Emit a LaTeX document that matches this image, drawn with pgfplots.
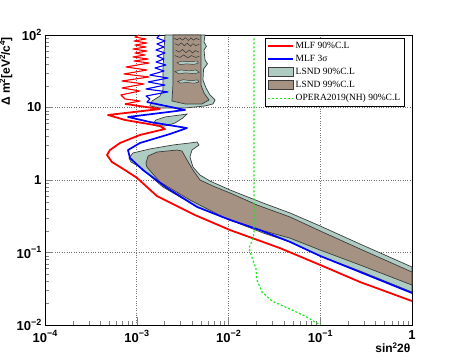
\documentclass[border=0pt]{standalone}
\usepackage{fontspec}
\setmainfont{Liberation Serif}
\setsansfont{Liberation Sans}
\usepackage{pgfplots}
\pgfplotsset{compat=1.18}
\definecolor{lsndA}{RGB}{174,204,194}
\definecolor{lsndB}{RGB}{166,146,131}
\definecolor{edge}{RGB}{60,60,60}
\definecolor{opera}{RGB}{20,235,20}
\newcommand{\tpow}[1]{10\raisebox{0.42em}{\fontsize{9}{9}\selectfont #1}}
\newcommand{\spx}[1]{\raisebox{0.4em}{\fontsize{8}{8}\selectfont #1}}
\pgfplotsset{
  linelegend/.style={legend image code/.code={\draw[##1] (0pt,0pt) -- (25pt,0pt);}},
  boxlegend/.style={legend image code/.code={\draw[##1] (0pt,-4.5pt) rectangle (25pt,4.5pt);}},
}
\begin{document}
\begin{tikzpicture}
\useasboundingbox (-45pt,-37pt) rectangle (412pt,325pt);
\begin{axis}[
  at={(0,0)}, anchor=south west,
  scale only axis, width=367pt, height=290pt,
  xmode=log, ymode=log,
  xmin=1e-4, xmax=1, ymin=1e-2, ymax=100,
  tick pos=left, tick align=inside,
  major tick length=8pt, minor tick length=4pt,
  xtick={1e-4,1e-3,1e-2,1e-1,1},
  xticklabels={\tpow{−4},\tpow{−3},\tpow{−2},\tpow{−1},1},
  minor xtick={2e-4,3e-4,4e-4,5e-4,6e-4,7e-4,8e-4,9e-4,
    2e-3,3e-3,4e-3,5e-3,6e-3,7e-3,8e-3,9e-3,
    2e-2,3e-2,4e-2,5e-2,6e-2,7e-2,8e-2,9e-2,
    0.2,0.3,0.4,0.5,0.6,0.7,0.8,0.9},
  ytick={1e-2,1e-1,1,10,100},
  yticklabels={\tpow{−2},\tpow{−1},1,10,\tpow{2}},
  minor ytick={0.02,0.03,0.04,0.05,0.06,0.07,0.08,0.09,
    0.2,0.3,0.4,0.5,0.6,0.7,0.8,0.9,
    2,3,4,5,6,7,8,9,20,30,40,50,60,70,80,90},
  tick label style={font=\sffamily\bfseries\fontsize{13}{13}\selectfont},
  xticklabel style={yshift=-2pt},
  grid=major, grid style={dotted, black!55, line width=0.5pt},
  axis line style={line width=0.8pt},
  xlabel={sin\spx{2}2θ},
  xlabel style={at={(axis description cs:1.005,-0.048)}, anchor=north east,
    font=\sffamily\bfseries\fontsize{12}{12}\selectfont},
  ylabel={Δ m\spx{2}[eV\spx{2}/c\spx{4}]},
  ylabel style={at={(axis description cs:-0.079,1.005)}, anchor=south east,
    font=\sffamily\bfseries\fontsize{12}{12}\selectfont},
  linelegend,
  legend cell align=left,
  legend style={at={(axis description cs:0.5995,0.990)}, anchor=north west,
    draw=black, fill=white, font=\rmfamily\fontsize{9.5}{9.5}\selectfont,
    row sep=1.2pt, inner sep=2pt},
]
\addlegendimage{red, line width=1.5pt}
\addlegendentry{MLF 90\%C.L}
\addlegendimage{blue, line width=1.5pt}
\addlegendentry{MLF 3σ}
\addlegendimage{boxlegend, fill=lsndA, draw=edge, line width=0.8pt}
\addlegendentry{LSND 90\%C.L}
\addlegendimage{boxlegend, fill=lsndB, draw=edge, line width=0.8pt}
\addlegendentry{LSND 99\%C.L}
\addlegendimage{opera, dash pattern=on 2pt off 2pt, line width=1.2pt}
\addlegendentry{OPERA2019(NH) 90\%C.L}

% LSND 90% regions
\addplot[fill=lsndA, draw=edge, line width=0.7pt, forget plot] coordinates {
  (8.23e-4,2.01)(9.10e-4,2.36)(1.39e-3,2.68)(2.48e-3,3.04)(3.80e-3,3.24)
  (4.54e-3,3.34)(4.77e-3,3.04)(4.00e-3,2.59)(3.80e-3,2.08)(4.10e-3,1.51)
  (4.89e-3,1.17)(6.28e-3,0.969)(1.04e-2,0.728)(2.38e-2,0.482)(4.68e-2,0.351)
  (0.1,0.232)(0.271,0.131)(1,0.0631)(1,0.0285)(0.271,0.0556)(0.1,0.0895)
  (4.68e-2,0.140)(2.38e-2,0.186)(1.04e-2,0.281)(4.54e-3,0.425)(1.93e-3,0.800)
  (1.084e-3,1.51)(8.65e-4,1.77)} -- cycle;
\addplot[fill=lsndA, draw=edge, line width=0.7pt, forget plot] coordinates {
  (1.50e-3,5.92)(1.62e-3,6.73)(2.03e-3,7.40)(2.96e-3,7.88)(3.53e-3,8.13)
  (3.19e-3,7.17)(2.61e-3,6.11)(2.03e-3,5.56)(1.66e-3,5.56)} -- cycle;
\addplot[fill=lsndA, draw=edge, line width=0.7pt, forget plot] coordinates {
  (2.03e-3,100)(5.55e-3,100)(5.41e-3,80)(5.75e-3,70)(5.41e-3,62)(5.55e-3,45.2)
  (5.90e-3,40)(5.35e-3,34)(5.27e-3,23.9)(5.69e-3,18.6)
  (6.28e-3,14.9)(7.13e-3,12.7)(6.78e-3,11.2)(5.55e-3,10.5)(3.36e-3,9.84)
  (1.79e-3,9.84)(1.39e-3,10.5)(1.47e-3,12.3)(1.79e-3,14.4)(1.93e-3,17.4)
  (1.93e-3,32.9)} -- cycle;

% LSND 99% regions
\addplot[fill=lsndB, draw=edge, line width=0.7pt, forget plot] coordinates {
  (1.29e-3,1.89)(1.33e-3,2.14)(1.66e-3,2.43)(2.75e-3,2.59)(3.11e-3,2.51)
  (3.53e-3,1.89)(4.10e-3,1.37)(4.89e-3,1.0)(6.78e-3,0.826)(1.04e-2,0.662)
  (2.05e-2,0.452)(4.68e-2,0.309)(0.1,0.198)(0.271,0.112)(1,0.0538)
  (1,0.0356)(0.271,0.0673)(0.1,0.108)(4.68e-2,0.158)(2.05e-2,0.211)
  (8.71e-3,0.309)(3.80e-3,0.530)(1.79e-3,0.938)(1.29e-3,1.51)(1.26e-3,1.72)} -- cycle;
\addplot[fill=lsndB, draw=edge, line width=0.7pt, forget plot] coordinates {
  (2.48e-3,100)(5.01e-3,100)(5.01e-3,20.4)(5.41e-3,15.8)(6.13e-3,12.7)
  (5.14e-3,11.2)(3.36e-3,11.2)(2.42e-3,12.3)(2.48e-3,20.4)} -- cycle;
% teal gaps and dark contour noise inside the upper 99% region
\addplot[fill=lsndA, draw=edge, line width=0.5pt, forget plot] coordinates {
  (2.75e-3,41.5)(3.1e-3,43.5)(3.9e-3,42.8)(4.55e-3,43.8)(4.70e-3,41.1)
  (4.2e-3,39.2)(3.5e-3,40.0)(2.96e-3,38.9)} -- cycle;
\addplot[fill=lsndA, draw=edge, line width=0.5pt, forget plot] coordinates {
  (2.60e-3,31.2)(3.0e-3,33.0)(3.7e-3,32.0)(4.42e-3,32.9)(4.80e-3,30.6)
  (4.3e-3,29.2)(3.4e-3,30.0)(2.9e-3,29.1)} -- cycle;
\addplot[fill=lsndA, draw=edge, line width=0.5pt, forget plot] coordinates {
  (2.80e-3,22.9)(3.2e-3,24.2)(3.9e-3,23.4)(4.6e-3,24.0)(4.75e-3,22.5)
  (4.2e-3,21.6)(3.5e-3,22.2)(3.0e-3,21.7)} -- cycle;
\addplot[black!80, line width=0.5pt, forget plot] coordinates {
  (2.55e-3,90)(2.75e-3,86)(2.95e-3,91)(3.15e-3,85)(3.40e-3,92)(3.65e-3,84)
  (3.90e-3,91)(4.15e-3,85)(4.45e-3,90)(4.80e-3,86)};
\addplot[black!80, line width=0.5pt, forget plot] coordinates {
  (2.60e-3,76)(2.85e-3,72)(3.05e-3,78)(3.30e-3,71)(3.55e-3,77)(3.85e-3,70)
  (4.10e-3,76)(4.40e-3,71)(4.80e-3,75)};
\addplot[black!80, line width=0.5pt, forget plot] coordinates {
  (2.65e-3,62)(2.90e-3,58)(3.15e-3,63)(3.45e-3,57)(3.75e-3,62)(4.05e-3,56.5)
  (4.35e-3,61)(4.75e-3,58)};
\addplot[black!80, line width=0.5pt, forget plot] coordinates {
  (2.60e-3,52)(2.95e-3,49)(3.25e-3,53)(3.60e-3,48.5)(3.95e-3,52)(4.40e-3,49)(4.80e-3,51)};

% MLF 90% C.L.
\addplot[red, line width=1.1pt, line join=round, forget plot] coordinates {
  (1.058e-3,100)(9.57e-4,93.8)(1.26e-3,88.1)(9.33e-4,82.7)(1.29e-3,77.6)
  (9.57e-4,72.8)(1.26e-3,68.3)(9.10e-4,64.1)(1.29e-3,60.1)(9.57e-4,56.5)
  (1.23e-3,53.0)(9.10e-4,49.8)(1.33e-3,46.7)(9.33e-4,43.8)(1.36e-3,41.1)
  (7.64e-4,36.2)(1.29e-3,32.9)(7.26e-4,29.0)(1.36e-3,26.4)(6.90e-4,23.2)
  (1.20e-3,21.1)(6.90e-4,18.6)(1.084e-3,16.9)(6.73e-4,14.9)(7.45e-4,13.1)
  (1.084e-3,12.3)(7.45e-4,11.2)};
\addplot[red, line width=1.8pt, line join=round, forget plot] coordinates {
  (7.45e-4,11.2)(1.79e-3,9.53)(4.86e-4,7.88)(7.45e-4,6.73)
  (1.79e-3,5.56)(2.03e-3,5.05)(1.084e-3,4.18)(6.57e-4,3.24)(5.11e-4,2.59)
  (4.74e-4,2.21)(5.37e-4,1.77)(7.45e-4,1.37)(1.006e-3,1.07)(1.66e-3,0.601)
  (4.31e-3,0.329)(1.04e-2,0.204)(3.64e-2,0.115)(0.1,0.0673)(0.271,0.0392)(1,0.0214)};

% MLF 3 sigma
\addplot[blue, line width=1.1pt, line join=round, forget plot] coordinates {
  (1.79e-3,100)(1.66e-3,91.0)(2.03e-3,82.7)(1.66e-3,75.2)(1.98e-3,68.3)
  (1.62e-3,62.1)(2.03e-3,56.5)(1.66e-3,51.3)(1.98e-3,46.7)(1.62e-3,42.4)
  (2.08e-3,38.6)(1.58e-3,35.1)(1.98e-3,31.9)(1.39e-3,28.0)(2.19e-3,25.5)
  (1.33e-3,22.5)(2.03e-3,20.4)(1.26e-3,18.0)(2.19e-3,16.4)(1.26e-3,14.4)
  (1.39e-3,13.1)(1.29e-3,11.9)};
\addplot[blue, line width=1.7pt, line join=round, forget plot] coordinates {
  (1.29e-3,11.9)(3.36e-3,9.25)(8.03e-4,7.40)(1.39e-3,6.31)
  (3.53e-3,5.21)(2.30e-3,4.31)(1.084e-3,3.24)(8.03e-4,2.59)(8.44e-4,2.01)
  (1.17e-3,1.37)(2.14e-3,0.776)(4.54e-3,0.425)(1.04e-2,0.281)(2.2e-2,0.204)
  (4.68e-2,0.140)(0.1,0.0895)(0.271,0.0538)(1,0.0276)};

% OPERA 2019 (NH) 90% C.L.
\addplot[opera, line width=1.2pt, dash pattern=on 2pt off 2pt, forget plot] coordinates {
  (0.019,90)(0.019,0.192)(0.0186,0.158)(0.0167,0.115)(0.0181,0.084)
  (0.0199,0.061)(0.0204,0.042)(0.0232,0.0285)(0.0298,0.0214)(0.0468,0.0166)
  (0.0682,0.0133)(0.1,0.01)};
\end{axis}
\end{tikzpicture}
\end{document}
